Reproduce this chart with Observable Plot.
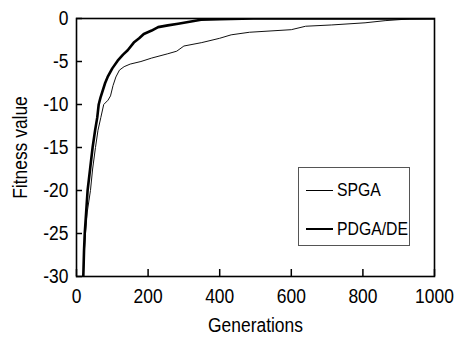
<!DOCTYPE html>
<html><head><meta charset="utf-8">
<script src="https://cdn.jsdelivr.net/npm/d3@7"></script>
<script src="https://cdn.jsdelivr.net/npm/@observablehq/plot@0.6"></script>
<style>
body{margin:0;background:#fff;font-family:"Liberation Sans",Arial,sans-serif}
#wrap{position:relative;width:454px;height:342px}
#legend{position:absolute;left:298px;top:167px;width:112px;height:79px;border:1px solid #555;box-sizing:border-box;background:#fff}
.row{position:absolute;left:7px;display:flex;align-items:center;font-size:19px;color:#000;line-height:22px}
.row span.l{display:inline-block;width:27px;margin-right:4px;background:#000}
.row span.t{display:inline-block;transform:scaleX(0.83);transform-origin:left center}
</style>
</head><body>
<div id="wrap"></div>
<script>
const seriesNames = ["SPGA", "PDGA/DE"];
const spgaGen = [19,22,25,30,39,45,53,60,68,76,88,95,102,110,120,133,150,180,210,255,280,300,350,400,432,483,600,640,713,806,862,930,1000];
const spgaFit = [-30,-27,-25,-22.5,-20,-17.5,-15,-13,-11.5,-10,-9.5,-9.0,-7.8,-6.8,-6.0,-5.6,-5.3,-5.0,-4.6,-4.1,-3.8,-3.2,-2.8,-2.3,-1.9,-1.6,-1.3,-0.9,-0.75,-0.5,-0.25,-0.05,0];
const pdgaGen = [19,21,23,27,31,38,45,52,58,62,67,80,87,100,115,130,143,160,175,188,210,228,255,284,320,348,400,494,1000];
const pdgaFit = [-30,-27,-25,-22.5,-20,-17.5,-15,-13,-11.5,-10,-9.2,-7.5,-6.8,-5.8,-4.9,-4.2,-3.7,-2.8,-2.3,-1.8,-1.4,-1.0,-0.8,-0.6,-0.35,-0.15,-0.08,0,0];
const xTicks = [0,200,400,600,800,1000];
const yTicks = [0,-5,-10,-15,-20,-25,-30];

const spga = spgaGen.map((g,i)=>({g, f: spgaFit[i]}));
const pdga = pdgaGen.map((g,i)=>({g, f: pdgaFit[i]}));
const font = '"Liberation Sans", Arial, sans-serif';

const chart = Plot.plot({
  width: 454, height: 342,
  marginLeft: 76, marginRight: 20, marginTop: 18, marginBottom: 66,
  style: {fontFamily: font, fontSize: "21px", color: "#000", background: "#fff"},
  x: {domain: [0, 1000]},
  y: {domain: [-30, 0]},
  marks: [
    Plot.line(spga, {x: "g", y: "f", stroke: "#111", strokeWidth: 1, clip: true}),
    Plot.line(pdga, {x: "g", y: "f", stroke: "#000", strokeWidth: 2.6, clip: true}),
    Plot.axisX({ticks: xTicks, tickSize: -7, tickPadding: 19, tickFormat: d => String(d), fontSize: 21, label: null, strokeWidth: 1.5}),
    Plot.axisY({ticks: yTicks, tickSize: -6, tickPadding: 14, tickFormat: d => String(d), fontSize: 21, label: null, strokeWidth: 1.5}),
    Plot.frame({stroke: "#000", strokeWidth: 1.6}),
    Plot.text(["Generations"], {frameAnchor: "bottom", dy: 55, text: d => d, fontSize: 21}),
    Plot.text(["Fitness value"], {frameAnchor: "left", textAnchor: "middle", dx: -56, rotate: -90, text: d => d, fontSize: 21})
  ]
});
// narrow the glyphs like the reference's condensed face
chart.querySelectorAll("text").forEach(t => {
  t.setAttribute("transform", (t.getAttribute("transform") || "") + " scale(0.83,1)");
});
const wrap = document.getElementById("wrap");
wrap.appendChild(chart);
const leg = document.createElement("div");
leg.id = "legend";
const widths = [1, 2.6];
const tops = [22, 61];
seriesNames.forEach((n,i)=>{
  const r = document.createElement("div");
  r.className = "row";
  r.style.top = (tops[i]-11) + "px";
  r.innerHTML = `<span class="l" style="height:${widths[i]}px"></span><span class="t">${n}</span>`;
  leg.appendChild(r);
});
wrap.appendChild(leg);
</script>
</body></html>
